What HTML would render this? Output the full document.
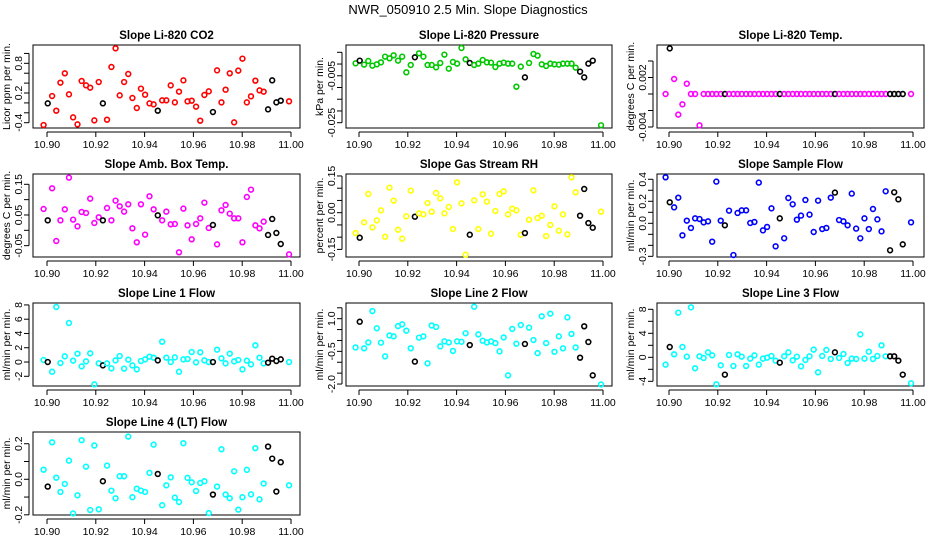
<!DOCTYPE html>
<html><head><meta charset="utf-8"><style>
html,body{margin:0;padding:0;background:#fff}
svg{display:block;font-family:"Liberation Sans",Arial,sans-serif}
</style></head><body>
<svg id="chart" width="936" height="540" viewBox="0 0 936 540" xmlns="http://www.w3.org/2000/svg">
<text x="468" y="14" text-anchor="middle" font-size="13">NWR_050910  2.5 Min. Slope Diagnostics</text>
</svg>
<script>
const times = [10.8986,10.9003,10.9021,10.9038,10.9055,10.9073,10.9090,10.9107,10.9125,10.9142,10.9160,10.9177,10.9194,10.9212,10.9229,10.9246,10.9264,10.9281,10.9298,10.9316,10.9333,10.9350,10.9368,10.9385,10.9402,10.9420,10.9437,10.9454,10.9472,10.9489,10.9507,10.9524,10.9541,10.9559,10.9576,10.9593,10.9611,10.9628,10.9645,10.9663,10.9680,10.9697,10.9715,10.9732,10.9749,10.9767,10.9784,10.9801,10.9819,10.9836,10.9854,10.9871,10.9888,10.9906,10.9923,10.9940,10.9958,10.9992];
const blackIdx = [1,14,27,40,53,54,55,56];
const xTicks = [10.90,10.92,10.94,10.96,10.98,11.00];
const xTickLabels = ["10.90","10.92","10.94","10.96","10.98","11.00"];

const co2 = [-0.447,-0.009,0.139,-0.157,0.409,0.598,0.173,-0.292,-0.434,0.443,0.355,0.308,-0.353,0.422,-0.009,-0.339,0.726,1.103,0.153,0.422,0.584,0.099,-0.103,0.288,0.166,-0.009,-0.029,-0.157,0.052,0.052,0.355,0.011,0.227,0.456,0.032,0.045,-0.076,-0.359,0.160,0.234,-0.184,0.658,0.011,0.267,0.598,-0.393,0.652,0.894,0.011,0.133,0.449,0.254,0.227,-0.130,0.456,0.011,0.045,0.032];
const pressure = [0.0003,0.00144,-0.00026,0.0013,-0.00069,-0.00012,0.00073,0.00315,0.00244,0.00372,0.00144,0.00315,-0.00353,-0.0004,0.00287,0.00457,0.00315,-0.0004,-0.0004,-0.0014,0.00045,0.004,-0.00197,0.00088,0.00017,0.00685,0.00201,0.00045,-0.0004,0.00017,0.00173,0.00073,0.00059,-0.00126,0.00017,0.00059,0.00017,0.00017,-0.00965,-0.00111,-0.00567,0.00045,0.00429,0.00358,-0.00012,-0.00083,0.00017,-0.00012,-0.00026,0.00017,0.00017,0.00017,-0.00154,-0.00325,-0.00567,0.00017,0.00144,-0.0261];
const licorTemp = [0,0.00553,0.00182,-0.0025,-0.00125,0.00125,0,0,-0.0038,0,0,0,0,0,0,0,0,0,0,0,0,0,0,0,0,0,0,0,0,0,0,0,0,0,0,0,0,0,0,0,0,0,0,0,0,0,0,0,0,0,0,0,0,0,0,0,0,0];
const boxTemp = [0.0696,0.0326,0.137,-0.0348,0.0326,0.0685,0.1717,0.0348,0.013,0.0598,0.0565,0.1033,0.0239,0.0424,0.0326,0.0728,0.0326,0.0967,0.0783,0.0609,0.0848,0.0065,-0.0391,0.0848,-0.0141,0.1109,0.0685,0.0489,0.0326,0.0609,0.0196,0.0207,-0.0717,0.0707,0.0163,-0.0293,0.0207,0.0391,0.0902,0.0076,0.0174,-0.0457,0.0652,0.0826,0.0543,0.0391,0.0391,-0.0391,0.1087,0.1326,0.0163,0.0065,0.0283,-0.0152,0.037,-0.0087,-0.0446,-0.0783];
const gasRH = [-0.0832,-0.1023,-0.0395,0.0764,-0.06,-0.0314,0.0095,-0.0982,0.1023,0.0491,-0.0695,-0.1064,-0.015,0.09,-0.0164,-0.0027,-0.0068,0.0395,0.0041,0.0805,0.0586,-0.0027,0.0232,-0.0668,0.1241,0.0382,-0.1718,-0.09,0.0505,-0.0668,0.075,0.045,-0.0859,0.0068,0.0764,0.0873,-0.0068,0.0164,0.0095,-0.09,-0.0832,-0.0286,0.0914,-0.0218,-0.0123,-0.0955,-0.05,0.0259,-0.0736,-0.0068,-0.0886,0.1445,0.0832,-0.0123,0.0968,-0.0423,-0.0614,0.0041];
const sampleFlow = [0.418,0.191,0.145,0.233,-0.109,0.024,-0.042,0.045,0.039,0.009,0.018,-0.167,0.379,0.024,-0.018,0.115,-0.288,0.094,0.118,0.118,0.003,0.012,0.370,-0.064,-0.033,0.136,-0.209,0.045,-0.136,0.230,0.173,0.033,0.070,0.212,0.079,-0.079,0.206,-0.052,-0.042,0.233,0.279,0.030,0.018,-0.018,0.270,-0.048,-0.136,0.045,-0.052,0.130,0.036,-0.073,0.291,-0.245,0.282,0.218,-0.191,0.009];
const line1 = [0.28,0,-1.36,7.71,-0.14,0.79,5.47,0.19,1.17,-0.61,0.09,1.21,-3.13,-0.19,-0.47,-0.19,-0.89,0.23,0.84,-0.93,0.33,-0.47,-1.03,0.14,0.37,0.75,0.61,0.23,2.85,0.61,0,0.65,-1.36,0.37,0.42,1.40,-0.05,1.36,0.23,0,0,1.73,0.51,-0.19,1.17,0.09,0.28,-1.03,0.19,-0.33,2.34,0.61,-0.19,-0.09,0.47,0.14,0.37,0];
const line2 = [-0.32,0.86,-0.36,-0.09,1.35,0.56,-0.10,-0.73,0.23,0.19,0.66,0.74,0.45,-0.36,-0.97,0.13,0.19,-1.05,0.69,0.62,-0.27,-0.04,-0.09,-0.48,-0.04,-0.06,0.33,-0.21,1.55,0.28,-0.01,-0.09,-0.04,-0.12,-0.50,0.14,-1.60,0.53,-0.15,0.71,-0.16,0.59,0.02,-0.58,1.11,-0.12,1.23,-0.52,0.19,-0.36,1.06,0.30,-0.32,-0.79,0.65,-0.07,-1.60,-2.02];
const line3 = [-1.22,1.72,0.5,7.44,1.72,0.11,8.33,-1.83,0.17,-0.11,0.83,0.33,-4.5,-1.33,-2.89,0.39,-1.44,0.5,0.11,-1.44,-0.22,0.33,-1.22,-0.22,-0.06,0.22,-0.56,-0.89,0.17,0.83,-0.5,0.11,-1.5,-0.44,0.17,1.28,-2.5,0.22,1.22,-0.28,0.83,-0.11,0.56,-0.94,-0.22,-0.28,3.83,-0.22,0.94,-0.28,0.22,2.0,0.17,0.17,0.17,-0.56,-2.89,-4.33];
const line4 = [0.054,-0.041,0.208,0.009,-0.071,-0.026,0.105,-0.192,-0.090,0.220,0.071,-0.173,0.190,-0.169,-0.011,0.077,-0.064,-0.107,0.017,0.017,0.240,-0.101,-0.053,-0.064,-0.071,0.036,0.195,0.030,-0.146,-0.034,0.011,-0.103,-0.128,0.203,0.008,-0.017,-0.066,-0.021,-0.011,-0.190,-0.086,-0.041,0.169,-0.086,-0.107,0.045,-0.171,-0.101,0.053,-0.085,0.175,-0.113,-0.024,0.184,0.116,-0.069,0.096,-0.034];

const co2Ticks=[-0.4,-0.2,0,0.2,0.4,0.6,0.8,1.0], co2Labels=["-0.4","0.2","0.8"];
const pressTicks=[0.005,0,-0.005,-0.01,-0.015,-0.02,-0.025], pressLabels=["-0.005","-0.025"];
const ltempTicks=[0.004,0.002,0,-0.002,-0.004], ltempLabels=["0.002","-0.004"];
const btempTicks=[0.15,0.10,0.05,0,-0.05], btempLabels=["0.15","0.05","-0.05"];
const rhTicks=[0.15,0.10,0.05,0,-0.05,-0.10,-0.15], rhLabels=["0.15","0.00","-0.15"];
const sfTicks=[0.4,0.3,0.2,0.1,0,-0.1,-0.2,-0.3], sfLabels=["0.4","0.2","0.0","-0.3"];
const l1Ticks=[8,6,4,2,0,-2], l1Labels=["8","6","4","2","0","-2"];
const l2Ticks=[1.5,1.0,0.5,0,-0.5,-1.0,-1.5,-2.0], l2Labels=["1.0","-0.5","-2.0"];
const l3Ticks=[8,6,4,2,0,-2,-4], l3Labels=["8","4","0","-4"];
const l4Ticks=[0.2,0.1,0,-0.1,-0.2], l4Labels=["0.2","0.0","-0.2"];

const panels=[
 {name:"co2",title:"Slope Li-820 CO2",ylab:"Licor ppm per min.",vals:co2,color:"#ff0000",col:0,row:0,ymin:-0.507,ymax:1.17,ticks:co2Ticks,labels:co2Labels},
 {name:"pressure",title:"Slope Li-820 Pressure",ylab:"kPa per min.",vals:pressure,color:"#00c800",col:1,row:0,ymin:-0.02726,ymax:0.00811,ticks:pressTicks,labels:pressLabels},
 {name:"licor-temp",title:"Slope Li-820 Temp.",ylab:"degrees C per min.",vals:licorTemp,color:"#ff00ff",col:2,row:0,ymin:-0.00412,ymax:0.00594,ticks:ltempTicks,labels:ltempLabels},
 {name:"box-temp",title:"Slope Amb. Box Temp.",ylab:"degrees C per min.",vals:boxTemp,color:"#ff00ff",col:0,row:1,ymin:-0.087,ymax:0.1836,ticks:btempTicks,labels:btempLabels},
 {name:"gas-rh",title:"Slope Gas Stream RH",ylab:"percent per min.",vals:gasRH,color:"#ffff00",col:1,row:1,ymin:-0.181,ymax:0.158,ticks:rhTicks,labels:rhLabels},
 {name:"sample-flow",title:"Slope Sample Flow",ylab:"ml/min per min.",vals:sampleFlow,color:"#0000ff",col:2,row:1,ymin:-0.306,ymax:0.448,ticks:sfTicks,labels:sfLabels},
 {name:"line1-flow",title:"Slope Line 1 Flow",ylab:"ml/min per min.",vals:line1,color:"#00ffff",col:0,row:2,ymin:-3.36,ymax:8.27,ticks:l1Ticks,labels:l1Labels},
 {name:"line2-flow",title:"Slope Line 2 Flow",ylab:"ml/min per min.",vals:line2,color:"#00ffff",col:1,row:2,ymin:-2.09,ymax:1.72,ticks:l2Ticks,labels:l2Labels},
 {name:"line3-flow",title:"Slope Line 3 Flow",ylab:"ml/min per min.",vals:line3,color:"#00ffff",col:2,row:2,ymin:-4.78,ymax:9.05,ticks:l3Ticks,labels:l3Labels},
 {name:"line4-flow",title:"Slope Line 4 (LT) Flow",ylab:"ml/min per min.",vals:line4,color:"#00ffff",col:0,row:3,ymin:-0.201,ymax:0.266,ticks:l4Ticks,labels:l4Labels}
];
const colLeft=[33,346,657], colRight=[300,612,924], colX0=[47,359,669];
const rowTop=[45,174,303,432], rowBot=[128,257,386,515];
const NS="http://www.w3.org/2000/svg";
const svg=document.getElementById("chart");
function mk(tag,attrs,parent){const e=document.createElementNS(NS,tag);for(const k in attrs)e.setAttribute(k,attrs[k]);parent.appendChild(e);return e;}
function fmt(v){return v.toFixed(4)}
panels.forEach(p=>{
  const L=colLeft[p.col],R=colRight[p.col],T=rowTop[p.row],B=rowBot[p.row];
  const xs=v=>colX0[p.col]+(v-10.90)*2440;
  const ys=v=>B-(v-p.ymin)/(p.ymax-p.ymin)*(B-T);
  const g=mk("g",{},svg);
  
  
  const box=mk("rect",{x:L,y:T,width:R-L,height:B-T,fill:"none",stroke:"#000","stroke-width":1},g);
  
  
  const t=mk("text",{x:(L+R)/2,y:T-6,"text-anchor":"middle","font-size":"11.5","font-weight":"bold"},g);
  t.textContent=p.title;
  
  
  const yl=mk("text",{transform:`translate(${L-23},${(T+B)/2}) rotate(-90)`,"text-anchor":"middle","font-size":"10.5"},g);
  yl.textContent=p.ylab;
  
  
  // x axis
  const xa=mk("g",{},g);
  
  
  mk("line",{x1:xs(xTicks[0]),x2:xs(xTicks[xTicks.length-1]),y1:B+4,y2:B+4,stroke:"#000"},xa);
  xTicks.forEach((v,i)=>{
    mk("line",{x1:xs(v),x2:xs(v),y1:B+4,y2:B+9,stroke:"#000"},xa);
    const tl=mk("text",{x:xs(v),y:B+20,"text-anchor":"middle","font-size":"10.5"},xa);
    tl.textContent=xTickLabels[i];
    
    
  });
  // y axis
  const ya=mk("g",{},g);
  
  
  const tmax=Math.max(...p.ticks),tmin=Math.min(...p.ticks);
  mk("line",{x1:L-4,x2:L-4,y1:ys(tmax),y2:ys(tmin),stroke:"#000"},ya);
  p.ticks.forEach(v=>{
    mk("line",{x1:L-9,x2:L-4,y1:ys(v),y2:ys(v),stroke:"#000"},ya);
  });
  p.labels.forEach(s=>{
    const v=parseFloat(s);
    const tl=mk("text",{transform:`translate(${L-11},${ys(v)}) rotate(-90)`,"text-anchor":"middle","font-size":"10.5"},ya);
    tl.textContent=s;
    
    
  });
  // points
  const pts=mk("g",{},g);
  
  
  p.vals.forEach((v,i)=>{
    const isB=blackIdx.includes(i);
    const c=mk("circle",{cx:fmt(xs(times[i])),cy:fmt(ys(v)),r:2.4,fill:"none",stroke:isB?"#000":p.color,"stroke-width":1.6},pts);
    
    
  });
});
</script>
</body></html>
